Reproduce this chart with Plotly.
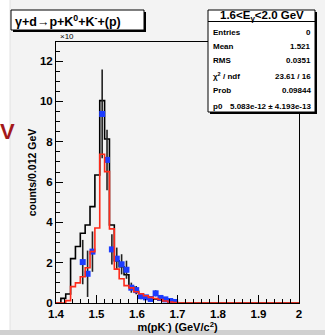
import plotly.graph_objects as go

# ---------------- data ----------------
bin_start = 1.4
bin_width = 0.012
n_bins = 50

black_hist = [0, 0.23, 0.45, 2.2, 2.8, 3.46, 3.87, 4.78, 6.35, 10.04,
              8.14, 3.87, 2.1, 1.8, 1.4, 0.8, 0.58, 0.42, 0.32, 0.28,
              0.2, 0.15, 0.1, 0.05, 0.02] + [0] * 25

red_hist = [0, 0, 0.12, 0.81, 1.0, 1.3, 1.75, 2.55, 3.72, 7.38,
            6.52, 3.68, 1.68, 1.2, 0.86, 0.75, 0.56, 0.46, 0.36, 0.28,
            0.22, 0.17, 0.1, 0.05, 0.02] + [0] * 25

blue_x = [1.466, 1.478, 1.490, 1.514, 1.526, 1.538, 1.550, 1.562, 1.574,
          1.586, 1.598, 1.610, 1.622, 1.634, 1.646, 1.658, 1.670, 1.682, 1.694]
blue_y = [2.03, 1.45, 2.55, 9.38, 7.1, 2.66, 2.2, 1.92, 1.65,
          0.76, 0.64, 0.34, 0.28, 0.2, 0.48, 0.25, 0.18, 0.1, 0.05]
blue_err = [1.1, 1.15, 1.0, 2.2, 1.5, 0.75, 0.55, 0.5, 0.45,
            0.25, 0.2, 0.15, 0.12, 0.1, 0.15, 0.1, 0.08, 0.06, 0.04]

x_tick_vals = [1.4, 1.5, 1.6, 1.7, 1.8, 1.9, 2.0]
x_tick_labels = ["1.4", "1.5", "1.6", "1.7", "1.8", "1.9", "2"]

title_text = "γ+d→p+K<sup>0</sup>+K<sup>-</sup>+(p)"
stats_title = "1.6&lt;E<sub>γ</sub>&lt;2.0 GeV"
stats_labels = ["Entries", "Mean", "RMS", "χ<sup>2</sup> / ndf", "Prob", "p0"]
stats_values = ["0", "1.521", "0.0351", "23.61 / 16", "0.09844",
                "5.083e-12 ± 4.193e-13"]
x_title = "m(pK<sup>-</sup>) (GeV/c<sup>2</sup>)"
y_title = "counts/0.012 GeV"

# ---------------- geometry ----------------
W, H = 325, 335
L, R, T, B = 56, 299, 42, 303


def px(x):
    return (x - L) / (R - L)


def py(y):
    return (B - y) / (B - T)


edges = [bin_start + bin_width * i for i in range(n_bins + 1)]


def steps(vals):
    return edges, list(vals) + [vals[-1]]


FONT = "Liberation Sans, Arial, sans-serif"

fig = go.Figure()

bx, by = steps(black_hist)
fig.add_trace(go.Scatter(x=bx, y=by, mode="lines", line_shape="hv",
                         line=dict(color="black", width=1.6), showlegend=False))

fig.add_trace(go.Scatter(x=blue_x, y=blue_y, mode="markers",
                         marker=dict(symbol="square", size=6, color="#1c3cff"),
                         error_y=dict(type="data", array=blue_err, color="#222222",
                                      thickness=1.6, width=0),
                         showlegend=False))

rx, ry = steps(red_hist)
fig.add_trace(go.Scatter(x=rx, y=ry, mode="lines", line_shape="hv",
                         line=dict(color="#ff2a1a", width=1.6), showlegend=False))

shapes = []
# left white strip and bottom band
shapes.append(dict(type="rect", xref="paper", yref="paper", x0=px(0), x1=px(10),
                   y0=py(0), y1=py(H), fillcolor="white", line=dict(width=0), layer="below"))
shapes.append(dict(type="rect", xref="paper", yref="paper", x0=px(0), x1=px(W),
                   y0=py(330), y1=py(H), fillcolor="#d0d0d0", line=dict(width=0), layer="below"))
shapes.append(dict(type="line", xref="paper", yref="paper", x0=px(10), x1=px(10),
                   y0=py(0), y1=py(330), line=dict(color="#e2e2e2", width=1), layer="below"))

# title box with shadow
shapes.append(dict(type="rect", xref="paper", yref="paper", x0=px(13), x1=px(146),
                   y0=py(32), y1=py(12), fillcolor="black", line=dict(width=0)))
shapes.append(dict(type="rect", xref="paper", yref="paper", x0=px(11), x1=px(144),
                   y0=py(30), y1=py(10), fillcolor="white",
                   line=dict(color="black", width=1)))
# stats box with shadow
shapes.append(dict(type="rect", xref="paper", yref="paper", x0=px(210), x1=px(317),
                   y0=py(114), y1=py(12), fillcolor="black", line=dict(width=0)))
shapes.append(dict(type="rect", xref="paper", yref="paper", x0=px(208), x1=px(315),
                   y0=py(112), y1=py(10), fillcolor="white",
                   line=dict(color="black", width=1)))
shapes.append(dict(type="line", xref="paper", yref="paper", x0=px(208), x1=px(315),
                   y0=py(21.5), y1=py(21.5), line=dict(color="black", width=1)))

ann = []
ann.append(dict(text="V", x=px(7.5), y=py(131), xref="paper", yref="paper",
                showarrow=False, xanchor="center", yanchor="middle",
                font=dict(family=FONT, size=22, color="#a3191b", weight="bold")))
ann.append(dict(text=title_text, x=px(13), y=py(21), xref="paper", yref="paper",
                showarrow=False, xanchor="left", yanchor="middle",
                font=dict(family=FONT, size=12.5, color="black", weight="bold")))
ann.append(dict(text="×10", x=px(58), y=py(36), xref="paper", yref="paper",
                showarrow=False, xanchor="left", yanchor="middle",
                font=dict(family=FONT, size=8, color="black")))
ann.append(dict(text=stats_title, x=px(262), y=py(16), xref="paper", yref="paper",
                showarrow=False, xanchor="center", yanchor="middle",
                font=dict(family=FONT, size=11.5, color="black", weight="bold")))
row_y = [32.3, 46.5, 61, 76, 90.5, 106]
for lab, val, yy in zip(stats_labels, stats_values, row_y):
    ann.append(dict(text=lab, x=px(211), y=py(yy), xref="paper", yref="paper",
                    showarrow=False, xanchor="left", yanchor="middle",
                    font=dict(family=FONT, size=8, color="black", weight="bold")))
    ann.append(dict(text=val, x=px(313), y=py(yy), xref="paper", yref="paper",
                    showarrow=False, xanchor="right", yanchor="middle",
                    font=dict(family=FONT, size=8, color="black", weight="bold")))

bg = "#f3f3f3"
fig.update_layout(
    width=W, height=H,
    margin=dict(l=L, r=W - R, t=T, b=H - B, pad=0, autoexpand=False),
    paper_bgcolor=bg, plot_bgcolor=bg,
    shapes=shapes, annotations=ann,
    xaxis=dict(range=[1.4, 2.0], showgrid=False, zeroline=False, automargin=False,
               showline=True, linecolor="black", linewidth=1, mirror=True,
               ticks="inside", ticklen=8, tickcolor="black",
               tickmode="array", tickvals=x_tick_vals, ticktext=x_tick_labels,
               minor=dict(ticks="inside", ticklen=4, dtick=0.02, tick0=1.4,
                          tickcolor="black", showgrid=False),
               tickfont=dict(family=FONT, size=11.5, color="black", weight="bold"),
               title=dict(text=x_title, standoff=4,
                          font=dict(family=FONT, size=11, color="black", weight="bold"))),
    yaxis=dict(range=[0, 12.95], showgrid=False, zeroline=False, automargin=False,
               showline=True, linecolor="black", linewidth=1, mirror=True,
               ticks="inside", ticklen=7, tickcolor="black", dtick=2, tick0=0,
               minor=dict(ticks="inside", ticklen=4, dtick=0.5, tick0=0,
                          tickcolor="black", showgrid=False),
               tickfont=dict(family=FONT, size=11.5, color="black", weight="bold"),
               title=dict(text=y_title, standoff=1,
                          font=dict(family=FONT, size=10.5, color="black", weight="bold"))),
)

fig.write_html("out.html")
